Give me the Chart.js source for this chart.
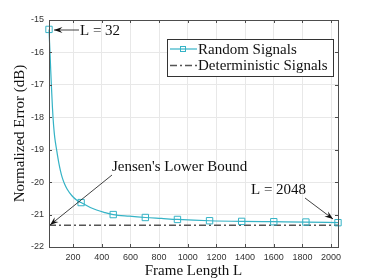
<!DOCTYPE html>
<html>
<head>
<meta charset="utf-8">
<script src="https://cdn.jsdelivr.net/npm/chart.js@4/dist/chart.umd.min.js"></script>
<style>
  body { margin: 0; background: #fff; }
  #wrap { width: 374px; height: 280px; }
</style>
</head>
<body>
<div id="wrap"><canvas id="myChart" width="374" height="280"></canvas></div>
<script>
// frame lengths
var frameLengths = [32, 36, 40, 44, 48, 56, 64, 72, 85, 100, 112, 125, 140, 159, 192, 224, 256, 320, 364, 416, 480, 592, 704, 816, 928, 1152, 1376, 1600, 1824, 2048];
var randomErr = [-15.29, -15.7, -16.1, -16.55, -16.95, -17.7, -18.25, -18.62, -19.0, -19.4, -19.65, -19.87, -20.05, -20.22, -20.42, -20.55, -20.63, -20.78, -20.86, -20.93, -21.0, -21.05, -21.09, -21.12, -21.15, -21.19, -21.21, -21.22, -21.23, -21.25];
var markerLengths = [32, 256, 480, 704, 928, 1152, 1376, 1600, 1824, 2048];
var deterministicErr = -21.33;
var xTicks = [200, 400, 600, 800, 1000, 1200, 1400, 1600, 1800, 2000];
var yTicks = [-22, -21, -20, -19, -18, -17, -16, -15];

var serif = '"Liberation Serif", "Times New Roman", serif';
var sans = '"Liberation Sans", Arial, sans-serif';
var cyan = '#35b3c6';

var randomPts = frameLengths.map(function (l, i) { return { x: l, y: randomErr[i] }; });
var detPts = [{ x: 32, y: deterministicErr }, { x: 2048, y: deterministicErr }];

function arrow(ctx, x1, y1, x2, y2) {
  ctx.beginPath();
  ctx.moveTo(x1, y1);
  ctx.lineTo(x2, y2);
  ctx.stroke();
  var a = Math.atan2(y2 - y1, x2 - x1);
  var len = 9, w = 0.35;
  ctx.beginPath();
  ctx.moveTo(x2, y2);
  ctx.lineTo(x2 - len * Math.cos(a - w), y2 - len * Math.sin(a - w));
  ctx.lineTo(x2 - len * 0.6 * Math.cos(a), y2 - len * 0.6 * Math.sin(a));
  ctx.lineTo(x2 - len * Math.cos(a + w), y2 - len * Math.sin(a + w));
  ctx.closePath();
  ctx.fill();
}

// box, inner ticks, legend and annotations
var extras = {
  id: 'extras',
  afterDatasetsDraw: function (chart) {
    var ctx = chart.ctx, a = chart.chartArea;
    var xs = chart.scales.x, ys = chart.scales.y;
    ctx.save();
    ctx.strokeStyle = '#4d4d4d';
    ctx.lineWidth = 1;
    ctx.strokeRect(a.left + 0.5, a.top + 0.5, a.right - a.left, a.bottom - a.top);
    ctx.beginPath();
    xTicks.forEach(function (v) {
      var px = Math.round(xs.getPixelForValue(v)) + 0.5;
      ctx.moveTo(px, a.bottom); ctx.lineTo(px, a.bottom - 3);
      ctx.moveTo(px, a.top); ctx.lineTo(px, a.top + 3);
    });
    yTicks.forEach(function (v) {
      var py = Math.round(ys.getPixelForValue(v)) + 0.5;
      ctx.moveTo(a.left, py); ctx.lineTo(a.left + 3, py);
      ctx.moveTo(a.right, py); ctx.lineTo(a.right - 3, py);
    });
    ctx.stroke();

    // legend
    var lx = 167, ly = 39, lw = 166, lh = 37;
    ctx.fillStyle = '#fff';
    ctx.fillRect(lx, ly, lw, lh);
    ctx.strokeStyle = '#333';
    ctx.strokeRect(lx + 0.5, ly + 0.5, lw, lh);
    ctx.font = '15px ' + serif;
    ctx.textBaseline = 'middle';
    chart.data.datasets.forEach(function (ds, i) {
      var yy = ly + 10 + i * 16.5;
      ctx.strokeStyle = ds.borderColor;
      ctx.lineWidth = ds.borderWidth;
      ctx.setLineDash(ds.borderDash || []);
      ctx.beginPath();
      ctx.moveTo(lx + 3, yy); ctx.lineTo(lx + 30, yy);
      ctx.stroke();
      ctx.setLineDash([]);
      if (i === 0) {
        ctx.lineWidth = 1;
        ctx.strokeRect(lx + 13.5, yy - 2.5, 5, 5);
      }
      ctx.fillStyle = '#111';
      ctx.fillText(ds.label, lx + 31, yy + 1);
    });

    // annotations
    ctx.strokeStyle = '#111';
    ctx.fillStyle = '#111';
    ctx.lineWidth = 0.8;
    ctx.font = '15px ' + serif;
    ctx.textBaseline = 'middle';
    ctx.fillText('L = 32', 80, 31);
    arrow(ctx, 79, 30, 54, 30);
    ctx.fillText("Jensen's Lower Bound", 112, 167);
    arrow(ctx, 112, 175, 50, 225);
    ctx.fillText('L = 2048', 251, 190);
    arrow(ctx, 305, 198, 333, 219);
    ctx.restore();
  }
};

var config = {
  type: 'line',
  data: {
    datasets: [{
      label: 'Random Signals',
      data: randomPts,
      borderColor: cyan,
      backgroundColor: 'rgba(0,0,0,0)',
      borderWidth: 1.2,
      cubicInterpolationMode: 'monotone',
      pointStyle: 'rect',
      pointRadius: function (c) {
        var p = c.raw;
        return p && markerLengths.indexOf(p.x) >= 0 ? 4.5 : 0;
      },
      pointBorderWidth: 1,
      pointBorderColor: cyan,
      pointBackgroundColor: 'rgba(0,0,0,0)'
    }, {
      label: 'Deterministic Signals',
      data: detPts,
      borderColor: '#555',
      borderWidth: 1.4,
      borderDash: [7, 3, 2, 3],
      pointRadius: 0
    }]
  },
  options: {
    responsive: false,
    animation: false,
    clip: false,
    layout: { padding: { top: 20, right: 36, left: 11, bottom: 0 } },
    plugins: { legend: { display: false }, tooltip: { enabled: false } },
    scales: {
      x: {
        type: 'linear',
        min: 32,
        max: 2048,
        afterBuildTicks: function (s) { s.ticks = xTicks.map(function (v) { return { value: v }; }); },
        afterFit: function (s) { s.height = 33; },
        grid: { color: '#e8e8e8', drawTicks: false },
        border: { display: false },
        ticks: { font: { family: sans, size: 9 }, color: '#333', padding: 5, maxRotation: 0,
          callback: function (v) { return String(v); } },
        title: { display: true, text: 'Frame Length L', font: { family: serif, size: 15 }, color: '#111', padding: { top: 0, bottom: 0 } }
      },
      y: {
        min: -22,
        max: -15,
        afterBuildTicks: function (s) { s.ticks = yTicks.map(function (v) { return { value: v }; }); },
        afterFit: function (s) { s.width = 38; },
        grid: { color: '#e8e8e8', drawTicks: false },
        border: { display: false },
        ticks: { font: { family: sans, size: 9 }, color: '#333', padding: 5,
          callback: function (v) { return String(v); } },
        title: { display: true, text: 'Normalized Error (dB)', font: { family: serif, size: 15 }, color: '#111', padding: { top: 0, bottom: 2 } }
      }
    }
  },
  plugins: [extras]
};

var myChart = new Chart(document.getElementById('myChart'), config);
</script>
</body>
</html>
